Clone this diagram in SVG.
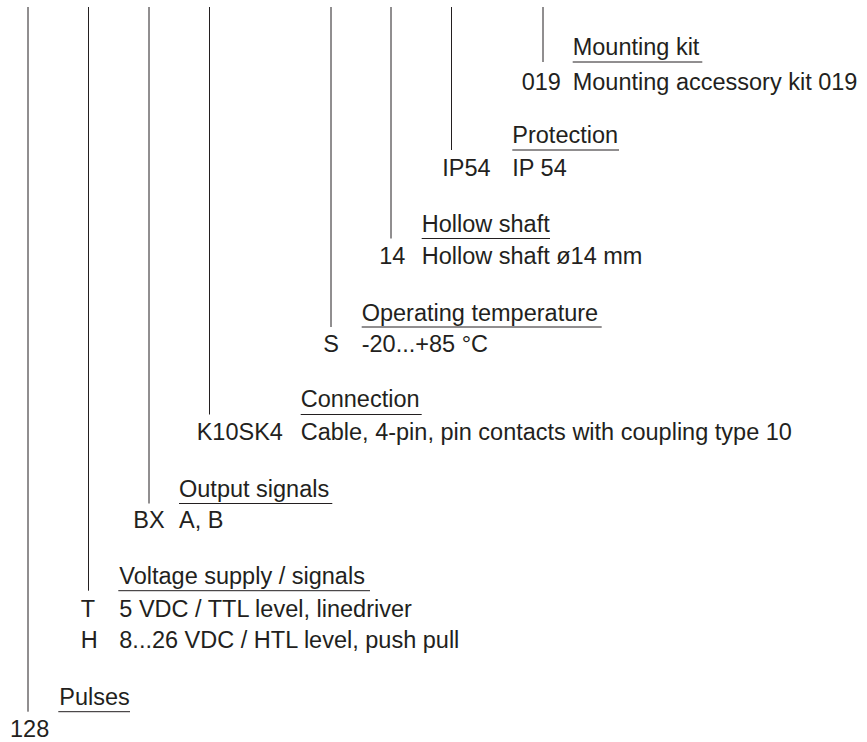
<svg xmlns="http://www.w3.org/2000/svg" width="867" height="742" viewBox="0 0 867 742">
<style>
text{font-family:"Liberation Sans",Arial,Helvetica,sans-serif;font-size:23.5px;fill:#231f20}
.u{stroke:#231f20;stroke-width:1;fill:none}
.c{stroke:#231f20;stroke-width:1;fill:none}
</style>
<rect width="867" height="742" fill="#ffffff"/>
<g id="connectors">
<line class="c" x1="28" y1="7" x2="28" y2="711.7"/>
<line class="c" x1="88.5" y1="7" x2="88.5" y2="590.7"/>
<line class="c" x1="149" y1="7" x2="149" y2="503.5"/>
<line class="c" x1="209.5" y1="7" x2="209.5" y2="414.5"/>
<line class="c" x1="331" y1="7" x2="331" y2="327"/>
<line class="c" x1="391" y1="7" x2="391" y2="238.5"/>
<line class="c" x1="451.5" y1="7" x2="451.5" y2="150"/>
<line class="c" x1="543" y1="7" x2="543" y2="62"/>
</g>
<g id="mounting-kit">
<text x="572.7" y="54.5">Mounting kit</text>
<line class="u" x1="572.7" y1="62" x2="702.3" y2="62"/>
<text x="521.7" y="89.5">019</text>
<text x="572.7" y="89.5">Mounting accessory kit 019</text>
</g>
<g id="protection">
<text x="512.3" y="142.7">Protection</text>
<line class="u" x1="512.3" y1="150" x2="619" y2="150"/>
<text x="442.3" y="175.7">IP54</text>
<text x="512.3" y="175.7">IP 54</text>
</g>
<g id="hollow-shaft">
<text x="421.7" y="231.5">Hollow shaft</text>
<line class="u" x1="421.7" y1="238.5" x2="550" y2="238.5"/>
<text x="379.3" y="264">14</text>
<text x="421.7" y="264">Hollow shaft ø14 mm</text>
</g>
<g id="operating-temperature">
<text x="361.7" y="320.7">Operating temperature</text>
<line class="u" x1="361.7" y1="327" x2="601.7" y2="327"/>
<text x="323.3" y="351.7">S</text>
<text x="361.7" y="351.7">-20...+85 °C</text>
</g>
<g id="connection">
<text x="300.7" y="407.3">Connection</text>
<line class="u" x1="300.7" y1="414.5" x2="421.7" y2="414.5"/>
<text x="196.7" y="440">K10SK4</text>
<text x="300.7" y="440">Cable, 4-pin, pin contacts with coupling type 10</text>
</g>
<g id="output-signals">
<text x="179" y="497">Output signals</text>
<line class="u" x1="179" y1="503.5" x2="332.3" y2="503.5"/>
<text x="133.3" y="527.5">BX</text>
<text x="179" y="527.5">A, B</text>
</g>
<g id="voltage-supply">
<text x="119.3" y="584">Voltage supply / signals</text>
<line class="u" x1="118.3" y1="590.7" x2="370" y2="590.7"/>
<text x="80.7" y="616.7">T</text>
<text x="119.3" y="616.7">5 VDC / TTL level, linedriver</text>
<text x="80.7" y="648.3">H</text>
<text x="119.3" y="648.3">8...26 VDC / HTL level, push pull</text>
</g>
<g id="pulses">
<text x="59.3" y="705">Pulses</text>
<line class="u" x1="58.3" y1="711.7" x2="130" y2="711.7"/>
<text x="10" y="736.7">128</text>
</g>
</svg>
